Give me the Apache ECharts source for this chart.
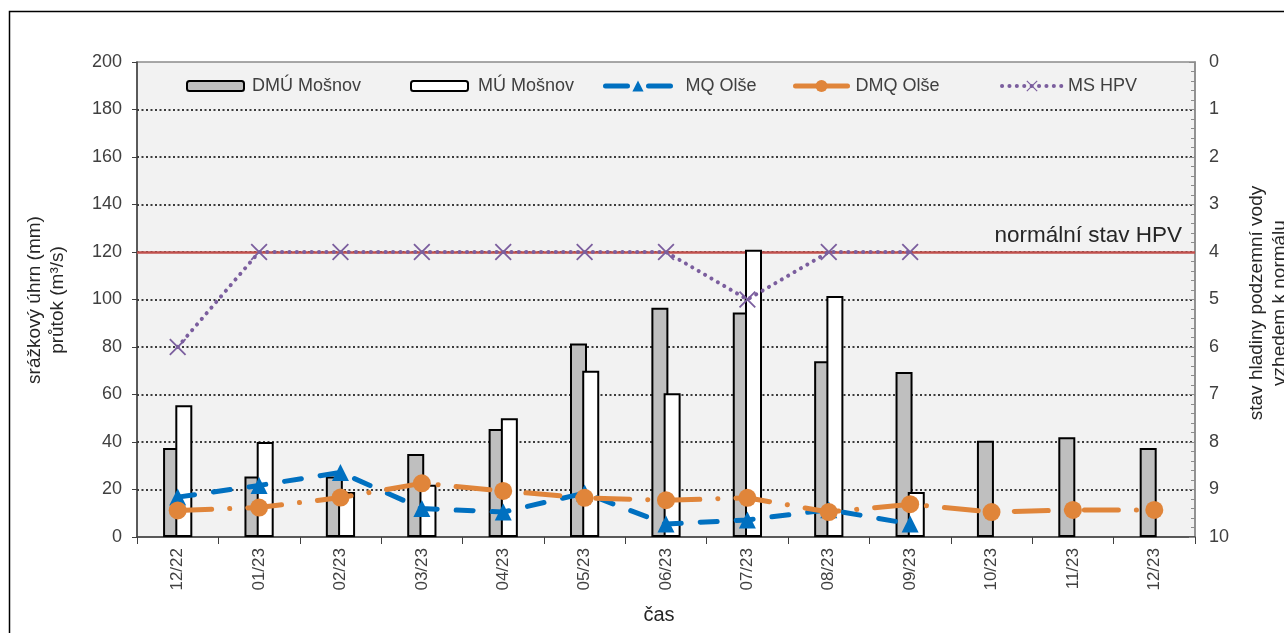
<!DOCTYPE html>
<html>
<head>
<meta charset="utf-8">
<script src="https://cdn.jsdelivr.net/npm/echarts@6/dist/echarts.min.js"></script>
<style>
html,body{margin:0;padding:0;background:#fff;}
#chart{width:1284px;height:633px;}
</style>
</head>
<body>
<div id="chart"></div>
<script>
// ---- data ----
const categories = ['12/22','01/23','02/23','03/23','04/23','05/23','06/23','07/23','08/23','09/23','10/23','11/23','12/23'];
const dmuMosnov = [37.5, 25.5, 25.5, 35, 45.5, 81.5, 96.5, 94.5, 74, 69.5, 40.5, 42, 37.5];
const muMosnov  = [55.5, 40, 19, 22, 50, 70, 60.5, 121, 101.5, 19, null, null, null];
const mqOlse    = [16.8, 21.7, 27.2, 12, 10.5, 18.5, 5.5, 7.2, 11.5, 5.5, null, null, null];
const dmqOlse   = [11.2, 12.4, 16.6, 22.6, 19.4, 16.5, 15.5, 16.5, 10.5, 13.8, 10.5, 11.4, 11.4];
const msHpv     = [6, 4, 4, 4, 4, 4, 4, 5, 4, 4, null, null, null];
const hpvNormal = 4;
const seriesNames = ['DMÚ Mošnov', 'MÚ Mošnov', 'MQ Olše', 'DMQ Olše', 'MS HPV'];
const leftAxis  = {min: 0, max: 200, interval: 20};
const rightAxis = {min: 0, max: 10, interval: 1};

const FONT = "'Liberation Sans', Arial, sans-serif";
const xMark = 'path://M0,1.5L1.5,0L10,8.5L18.5,0L20,1.5L11.5,10L20,18.5L18.5,20L10,11.5L1.5,20L0,18.5L8.5,10Z';

const chart = echarts.init(document.getElementById('chart'), null, {renderer: 'canvas'});

function legendAt(name, left, w, h, textPad, lineStyle) {
  const l = {
    data: [name], left: left, top: 77, padding: 0,
    itemWidth: w, itemHeight: h, selectedMode: false,
    textStyle: {fontFamily: FONT, fontSize: 18, color: '#404040', padding: [0, 0, 0, textPad]}
  };
  if (lineStyle) l.lineStyle = lineStyle;
  return l;
}

const option = {
  animation: false,
  backgroundColor: '#fff',
  textStyle: {fontFamily: FONT},
  grid: {left: 137, right: 89, top: 62, bottom: 96, show: true,
         backgroundColor: '#F2F2F2', borderColor: '#8c8c8c', borderWidth: 1.5},
  legend: [
    legendAt(seriesNames[0], 186, 57, 10, 3),
    legendAt(seriesNames[1], 410, 57, 10, 5),
    legendAt(seriesNames[2], 603, 65, 14, 10, {width: 5, type: [22, 21], cap: 'round'}),
    legendAt(seriesNames[3], 793, 52, 15, 3, {width: 5, type: 'solid', cap: 'round'}),
    legendAt(seriesNames[4], 1000, 60, 14, 1, {width: 4, type: [0.1, 7.3], cap: 'round'})
  ],
  xAxis: {
    type: 'category', data: categories, boundaryGap: true,
    axisLine: {lineStyle: {color: '#404040', width: 1.5}},
    axisTick: {show: true, length: 7, lineStyle: {color: '#404040', width: 1}},
    axisLabel: {rotate: 90, margin: 11, fontSize: 17, color: '#404040', fontFamily: FONT},
    splitLine: {show: false}
  },
  yAxis: [
    {
      type: 'value', min: leftAxis.min, max: leftAxis.max, interval: leftAxis.interval,
      axisLine: {show: true, lineStyle: {color: '#404040', width: 1.5}},
      axisTick: {show: true, length: 5, lineStyle: {color: '#404040'}},
      axisLabel: {margin: 15, fontSize: 18, color: '#404040', fontFamily: FONT},
      splitLine: {show: true, showMinLine: false, showMaxLine: false,
                  lineStyle: {color: '#000', type: [2, 2.5], width: 1.5}}
    },
    {
      type: 'value', inverse: true, min: rightAxis.min, max: rightAxis.max, interval: rightAxis.interval,
      position: 'right',
      axisLine: {show: true, lineStyle: {color: '#8c8c8c', width: 1.5}},
      axisTick: {show: true, inside: true, length: 6, lineStyle: {color: '#8c8c8c'}},
      minorTick: {show: true, splitNumber: 5, length: 4, lineStyle: {color: '#8c8c8c'}},
      axisLabel: {margin: 14, fontSize: 18, color: '#404040', fontFamily: FONT},
      splitLine: {show: false}
    }
  ],
  series: [
    {
      name: seriesNames[0], type: 'bar', data: dmuMosnov, barWidth: 17, barGap: '-28%',
      itemStyle: {color: '#BFBFBF', borderColor: '#000', borderWidth: 2}, z: 2
    },
    {
      name: seriesNames[1], type: 'bar', data: muMosnov, barWidth: 17, barGap: '-28%',
      itemStyle: {color: '#FFFFFF', borderColor: '#000', borderWidth: 2}, z: 2
    },
    {
      name: seriesNames[2], type: 'line', data: mqOlse, connectNulls: false,
      symbol: 'triangle', symbolSize: 17, showAllSymbol: true,
      itemStyle: {color: '#0070C0'},
      lineStyle: {color: '#0070C0', width: 5, type: [17, 19], cap: 'round'}, z: 3
    },
    {
      name: seriesNames[3], type: 'line', data: dmqOlse,
      symbol: 'circle', symbolSize: 18, showAllSymbol: true,
      itemStyle: {color: '#E0853A'},
      lineStyle: {color: '#E0853A', width: 5, type: [34, 18, 0.1, 18], cap: 'round'}, z: 4
    },
    {
      name: seriesNames[4], type: 'line', yAxisIndex: 1, data: msHpv,
      symbol: xMark, symbolSize: 17, showAllSymbol: true,
      itemStyle: {color: '#7B5E9E'},
      lineStyle: {color: '#7B5E9E', width: 4, type: [0.1, 7.3], cap: 'round'}, z: 5,
      markLine: {
        silent: true, symbol: 'none', z: 1,
        data: [{yAxis: hpvNormal}],
        lineStyle: {color: '#C0504D', width: 2.5, type: 'solid'},
        label: {show: true, position: 'insideEndTop', formatter: 'normální stav HPV',
                fontSize: 22.5, color: '#262626', fontFamily: FONT, distance: 5,
                padding: [0, 8, 0, 0]}
      }
    }
  ],
  graphic: [
    {type: 'rect', silent: true, z: 100,
     shape: {x: 9.5, y: 11.5, width: 1400, height: 800},
     style: {fill: 'none', stroke: '#000', lineWidth: 1.5}},
    {type: 'text', x: 46, y: 300, rotation: Math.PI / 2, silent: true,
     style: {text: 'srážkový úhrn (mm)\nprůtok (m³/s)', align: 'center', verticalAlign: 'middle',
             fontSize: 19, lineHeight: 23, fill: '#262626', fontFamily: FONT}},
    {type: 'text', x: 1268, y: 303, rotation: Math.PI / 2, silent: true,
     style: {text: 'stav hladiny podzemní vody\nvzhedem k normálu', align: 'center', verticalAlign: 'middle',
             fontSize: 19, lineHeight: 23, fill: '#262626', fontFamily: FONT}},
    {type: 'text', x: 659, y: 615, silent: true,
     style: {text: 'čas', align: 'center', verticalAlign: 'middle',
             fontSize: 20, fill: '#262626', fontFamily: FONT}}
  ]
};
chart.setOption(option);
</script>
</body>
</html>
